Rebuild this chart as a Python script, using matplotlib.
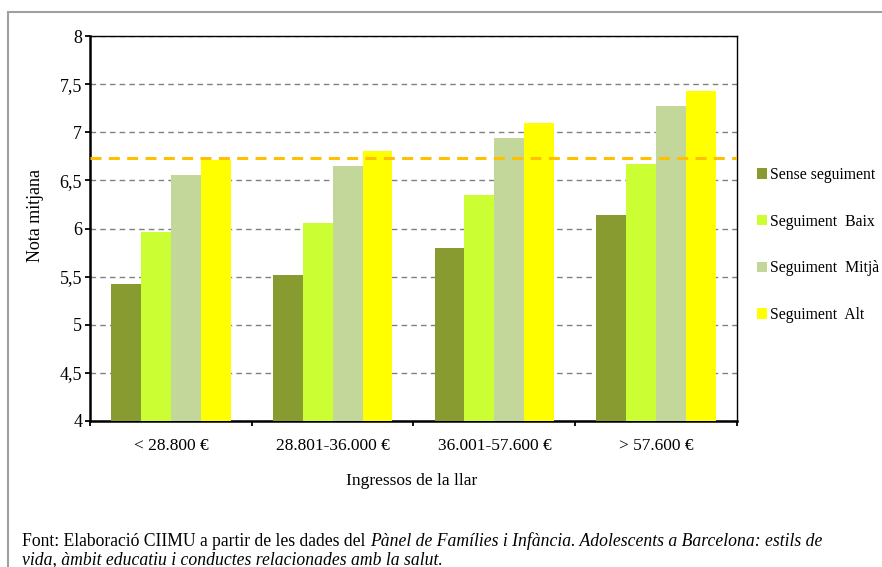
import matplotlib.pyplot as plt
import numpy as np
from matplotlib.patches import Rectangle

plt.rcParams["font.family"] = ["Liberation Serif", "DejaVu Serif"]

categories = ["< 28.800 €", "28.801-36.000 €", "36.001-57.600 €", "> 57.600 €"]
series_names = ["Sense seguiment", "Seguiment  Baix", "Seguiment  Mitjà", "Seguiment  Alt"]
sense = [5.42, 5.52, 5.80, 6.14]
baix = [5.96, 6.06, 6.35, 6.67]
mitja = [6.56, 6.65, 6.94, 7.27]
alt = [6.71, 6.81, 7.10, 7.43]
mitjana_global = 6.73
y_ticks = [4, 4.5, 5, 5.5, 6, 6.5, 7, 7.5, 8]
y_labels = ["4", "4,5", "5", "5,5", "6", "6,5", "7", "7,5", "8"]

colors = ["#879b30", "#ccff33", "#c4d79b", "#ffff00"]

fig = plt.figure(figsize=(8.82, 5.67), dpi=100)
ax = fig.add_axes([0.102, 0.2575, 0.7336, 0.679])

x = np.arange(len(categories))
width = 0.185
for i, (vals, name) in enumerate(zip([sense, baix, mitja, alt], series_names)):
    ax.bar(x + (i - 1.5) * width, np.array(vals) - 4, width, bottom=4,
           color=colors[i], label=name, zorder=3)

ax.axhline(mitjana_global, color="#ffc000", linestyle=(0, (3.6, 2.4)),
           linewidth=2.2, zorder=4)

ax.set_ylim(4, 8)
ax.set_xlim(-0.5, 3.5)
ax.set_yticks(y_ticks)
ax.set_yticklabels(y_labels)
ax.yaxis.grid(True, color="#808080", linestyle=(0, (4, 3)), linewidth=1, zorder=0)
ax.set_xticks(x)
ax.set_xticklabels(categories)
ax.set_xticks(np.arange(-0.5, 4, 1), minor=True)
ax.tick_params(axis="x", which="major", length=0, pad=12, labelsize=12.5)
ax.tick_params(axis="x", which="minor", length=3.6, width=1.3, direction="out")
ax.tick_params(axis="y", length=3.6, width=1.3, direction="out", labelsize=13, pad=2)

for side in ["left", "bottom"]:
    ax.spines[side].set_linewidth(1.8)
for side in ["top", "right"]:
    ax.spines[side].set_linewidth(1.0)

fig.text(35 / 882, 1 - 215 / 567, "Nota mitjana", fontsize=13,
         rotation=90, ha="center", va="center")
fig.text(412 / 882, 1 - 481 / 567, "Ingressos de la llar", fontsize=12.5,
         ha="center", va="center")

fig.legend(*ax.get_legend_handles_labels(), loc="center left",
           bbox_to_anchor=(757 / 882, 1 - 245 / 567), frameon=False,
           fontsize=11.3, handlelength=0.65, handleheight=0.65, handletextpad=0.2,
           labelspacing=1.95, borderaxespad=0, borderpad=0)

# outer frame
fig.patches.append(Rectangle((8 / 882, -0.1), 1.0, 1 - 12 / 567 + 0.1,
                             transform=fig.transFigure, fill=False,
                             edgecolor="#a0a0a0", linewidth=1.5))

# source note: regular + italic
t1 = fig.text(22 / 882, 1 - 541 / 567, "Font: Elaboració CIIMU a partir de les dades del ",
              fontsize=12.7, va="center")
ax.annotate("Pànel de Famílies i Infància. Adolescents a Barcelona: estils de",
            xy=(1, 0), xycoords=t1, va="bottom", ha="left", fontsize=12.7,
            style="italic", annotation_clip=False)
fig.text(22 / 882, 1 - 560 / 567,
         "vida, àmbit educatiu i conductes relacionades amb la salut.",
         fontsize=12.7, va="center", style="italic")

fig.savefig("out.png", dpi=100)
